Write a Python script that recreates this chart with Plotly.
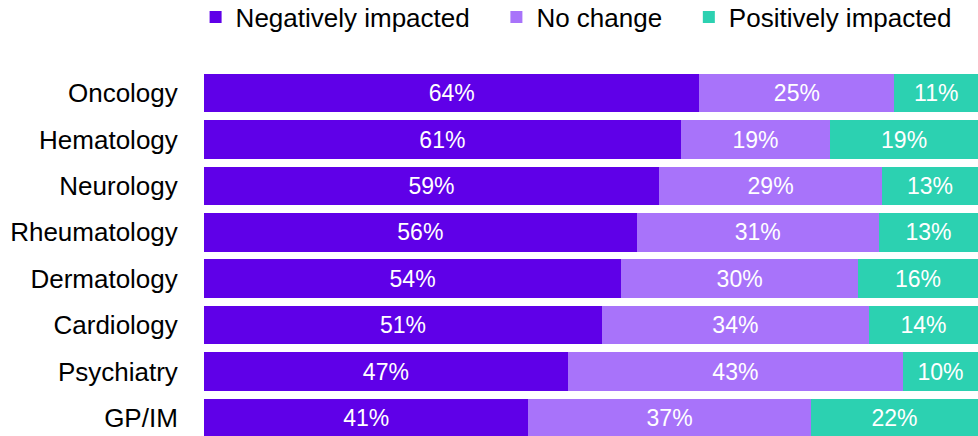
import plotly.graph_objects as go

categories = ["Oncology", "Hematology", "Neurology", "Rheumatology",
              "Dermatology", "Cardiology", "Psychiatry", "GP/IM"]
series_names = ["Negatively impacted", "No change", "Positively impacted"]
colors = ["#5F00E8", "#A873FA", "#2CD1B1"]

negative = [64.0, 61.6, 58.8, 55.9, 53.9, 51.4, 47.0, 41.9]
no_change = [25.2, 19.3, 28.8, 31.3, 30.6, 34.5, 43.3, 36.5]
positive = [10.8, 19.1, 12.4, 12.8, 15.5, 14.1, 9.7, 21.6]

negative_labels = ["64%", "61%", "59%", "56%", "54%", "51%", "47%", "41%"]
no_change_labels = ["25%", "19%", "29%", "31%", "30%", "34%", "43%", "37%"]
positive_labels = ["11%", "19%", "13%", "13%", "16%", "14%", "10%", "22%"]

values = [negative, no_change, positive]
labels = [negative_labels, no_change_labels, positive_labels]

FONT = "Liberation Sans, Arial, sans-serif"
PAD = "\u00a0\u00a0\u00a0"  # extra spacing between legend entries

fig = go.Figure()
for i, (name, col, vals, labs) in enumerate(zip(series_names, colors, values, labels)):
    legend_name = name + (PAD if i < len(series_names) - 1 else "")
    fig.add_trace(go.Bar(
        y=categories, x=vals, name=legend_name, orientation="h",
        marker=dict(color=col, line=dict(width=0)),
        text=labs, textposition="inside", insidetextanchor="middle",
        textangle=0, constraintext="none",
        textfont=dict(color="white", size=23, family=FONT),
        hoverinfo="skip",
    ))

fig.update_layout(
    barmode="stack",
    bargap=0.17,
    width=978, height=436,
    margin=dict(l=204, r=0, t=70, b=0, pad=0),
    paper_bgcolor="white", plot_bgcolor="white",
    font=dict(family=FONT, color="black", size=26),
    legend=dict(
        orientation="h", xref="container", yref="container",
        x=0.2, xanchor="left", y=1 - 17 / 436, yanchor="middle",
        font=dict(size=26, family=FONT, color="black"),
        traceorder="normal", bgcolor="rgba(0,0,0,0)",
    ),
    xaxis=dict(range=[0, 100], visible=False, showgrid=False, zeroline=False),
    yaxis=dict(
        categoryorder="array", categoryarray=categories,
        range=[7.39, -0.5], showgrid=False, zeroline=False, showline=False,
        ticks="outside", ticklen=20, tickcolor="rgba(0,0,0,0)",
        tickfont=dict(size=26, family=FONT, color="black"),
    ),
    showlegend=True,
)

fig.write_html("out.html")
